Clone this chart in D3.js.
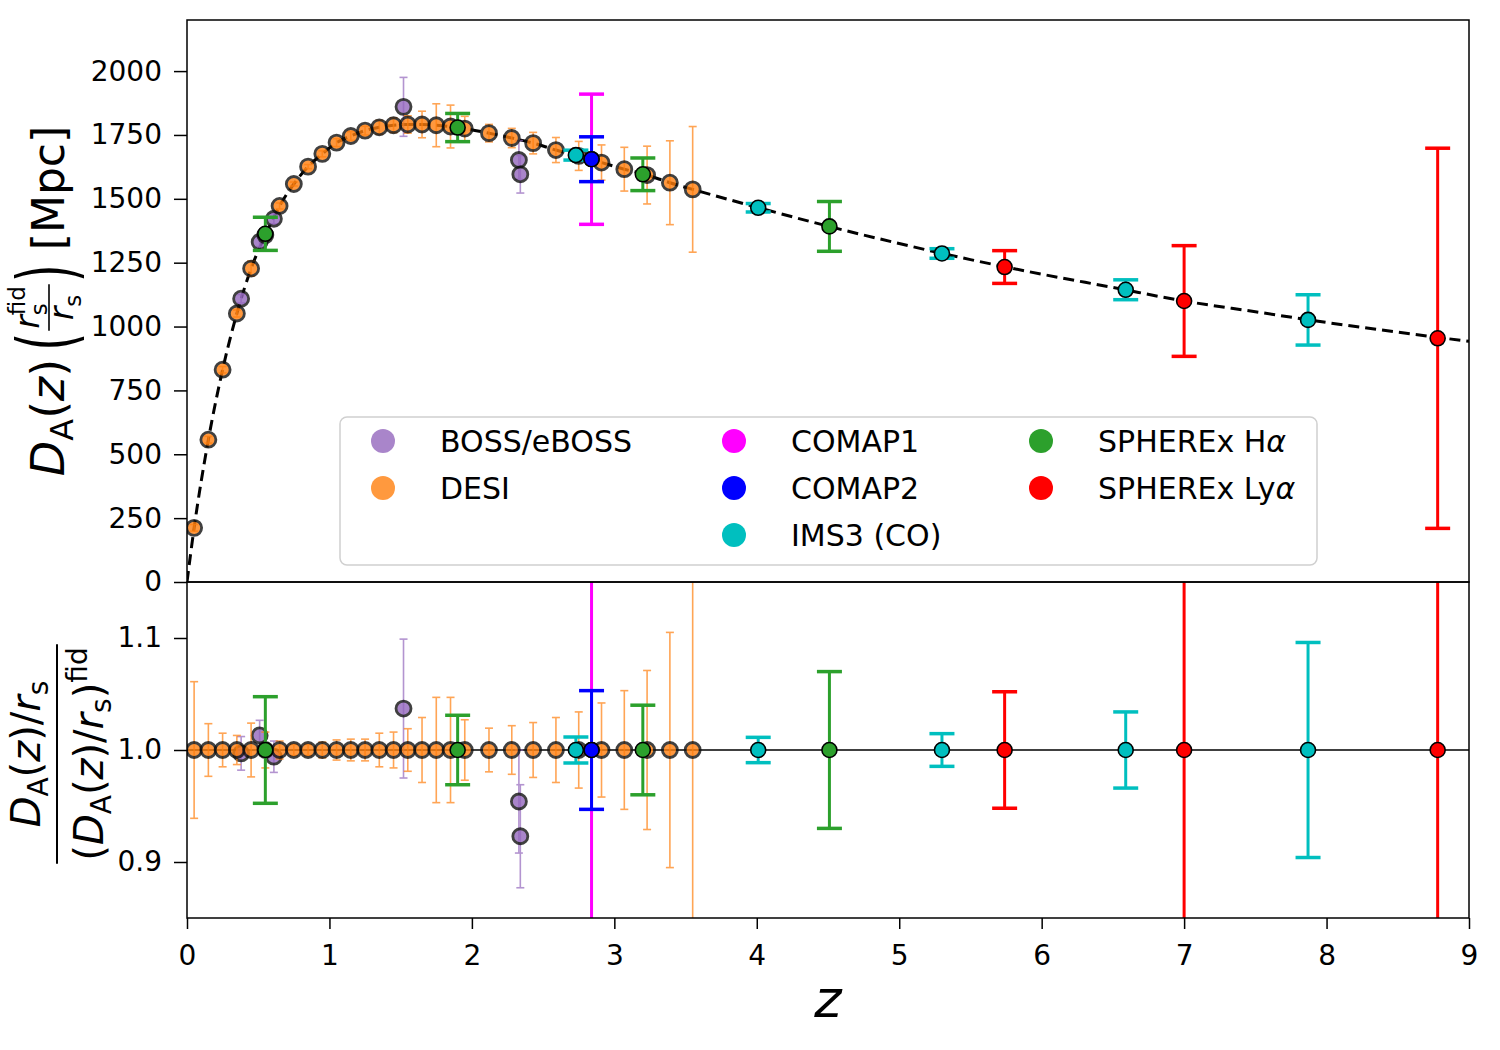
<!DOCTYPE html>
<html>
<head>
<meta charset="utf-8">
<script src="https://cdn.jsdelivr.net/npm/d3@7"></script>
<style>
    body { margin: 0; background: #fff; }
    text { font-family: 'DejaVu Sans', sans-serif; fill: #000; }
</style>
</head>
<body>
<div id="graph"></div>
<script>
// fiducial D_A(z) curve
const fidZ = [0, 0.05, 0.15, 0.25, 0.35, 0.45, 0.55, 0.65, 0.75, 0.85, 0.95, 1.05, 1.15, 1.25, 1.35,
    1.45, 1.55, 1.65, 1.75, 1.85, 1.95, 2.12, 2.28, 2.43, 2.59, 2.75, 2.91, 3.07, 3.23, 3.39, 3.55,
    4.0, 4.5, 5.0, 5.5, 6.0, 6.5, 7.0, 7.5, 8.0, 8.5, 9.0];
const fidDA = [0, 212, 557, 831, 1051, 1227, 1358, 1472, 1558, 1626, 1676, 1720, 1746, 1767, 1780,
    1788, 1791, 1791, 1788, 1783, 1775, 1757, 1738, 1718, 1691, 1668, 1642, 1616, 1593, 1563, 1537,
    1467, 1393, 1325, 1262, 1205, 1153, 1100, 1058, 1016, 978, 942];
const fidRatio = 1.0;

// DESI
const desiZ = [0.05, 0.15, 0.25, 0.35, 0.45, 0.55, 0.65, 0.75, 0.85, 0.95, 1.05, 1.15, 1.25, 1.35, 1.45,
    1.55, 1.65, 1.75, 1.85, 1.95, 2.12, 2.28, 2.43, 2.59, 2.75, 2.91, 3.07, 3.23, 3.39, 3.55];
const desiDA = [212, 557, 831, 1051, 1227, 1358, 1472, 1558, 1626, 1676, 1720, 1746, 1767, 1780, 1788,
    1791, 1791, 1788, 1783, 1775, 1757, 1738, 1718, 1691, 1668, 1642, 1616, 1593, 1563, 1537];
const desiErr = [0.061, 0.0235, 0.015, 0.013, 0.024, 0.016, 0.008, 0.005, 0.005, 0.007, 0.009, 0.0097,
    0.0097, 0.015, 0.016, 0.019, 0.029, 0.047, 0.047, 0.027, 0.0195, 0.0217, 0.0245, 0.029, 0.034,
    0.042, 0.053, 0.071, 0.105, 0.16];

// BOSS / eBOSS
const bossZ = [0.38, 0.51, 0.61, 1.52, 2.33, 2.34];
const bossDA = [1109, 1331, 1422, 1860, 1652, 1596];
const bossRatio = [0.997, 1.013, 0.994, 1.037, 0.954, 0.923];
const bossErr = [0.015, 0.0135, 0.014, 0.062, 0.046, 0.046];

// forecasts
const comap1Z = [2.84];
const comap1DA = [1655];
const comap1Err = [0.154];

const comap2Z = [2.84];
const comap2DA = [1655];
const comap2Err = [0.053];

const imsZ = [2.73, 4.01, 5.30, 6.59, 7.87];
const imsDA = [1671, 1465, 1286, 1144, 1026];
const imsErr = [0.0116, 0.0113, 0.0146, 0.034, 0.096];

const haZ = [0.55, 1.90, 3.20, 4.51];
const haDA = [1363, 1779, 1596, 1392];
const haErr = [0.0476, 0.031, 0.04, 0.07];

const lyaZ = [5.74, 7.00, 8.78];
const lyaDA = [1233, 1100, 954];
const lyaErr = [0.052, 0.197, 0.78];

const topTicks = [0, 250, 500, 750, 1000, 1250, 1500, 1750, 2000];
const bottomTicks = [0.9, 1.0, 1.1];
const zTicks = [0, 1, 2, 3, 4, 5, 6, 7, 8, 9];

const series = [
    {name: 'BOSS/eBOSS', color: '#9467bd', z: bossZ, da: bossDA, ratio: bossRatio, err: bossErr, kind: 'survey'},
    {name: 'DESI', color: '#ff7f0e', z: desiZ, da: desiDA, ratio: desiZ.map(() => fidRatio), err: desiErr, kind: 'survey'},
    {name: 'IMS3 (CO)', color: '#00bfbf', z: imsZ, da: imsDA, ratio: imsZ.map(() => fidRatio), err: imsErr, kind: 'forecast'},
    {name: 'COMAP1', color: '#ff00ff', z: comap1Z, da: comap1DA, ratio: comap1Z.map(() => fidRatio), err: comap1Err, kind: 'forecast'},
    {name: 'COMAP2', color: '#0000ff', z: comap2Z, da: comap2DA, ratio: comap2Z.map(() => fidRatio), err: comap2Err, kind: 'forecast'},
    {name: 'SPHEREx Hα', color: '#2ca02c', z: haZ, da: haDA, ratio: haZ.map(() => fidRatio), err: haErr, kind: 'forecast'},
    {name: 'SPHEREx Lyα', color: '#ff0000', z: lyaZ, da: lyaDA, ratio: lyaZ.map(() => fidRatio), err: lyaErr, kind: 'forecast'},
];
const legendOrder = [['BOSS/eBOSS', 'DESI'], ['COMAP1', 'COMAP2', 'IMS3 (CO)'], ['SPHEREx Hα', 'SPHEREx Lyα']];

const width = 1500;
const height = 1050;
const left = 187, right = 1469;
const topY0 = 20, splitY = 582, bottomY1 = 918;

const svg = d3.select('#graph').append('svg')
    .attr('width', width)
    .attr('height', height)
    .attr('viewBox', [0, 0, width, height]);

const x = d3.scaleLinear().domain([0, 9]).range([left, right]);
const yTop = d3.scaleLinear().domain([0, 2200]).range([splitY, topY0]);
const yBot = d3.scaleLinear().domain([0.85, 1.15]).range([bottomY1, splitY]);

const defs = svg.append('defs');
defs.append('clipPath').attr('id', 'clip-top').append('rect')
    .attr('x', left).attr('y', topY0).attr('width', right - left).attr('height', splitY - topY0);
defs.append('clipPath').attr('id', 'clip-bot').append('rect')
    .attr('x', left).attr('y', splitY).attr('width', right - left).attr('height', bottomY1 - splitY);

const style = {
    survey: {barW: 1.6, cap: 4, capW: 1.6, barOpacity: 0.7, r: 7.5, edge: '#111', edgeW: 2.8, opacity: 0.8},
    forecast: {barW: 3, cap: 12.5, capW: 3.5, barOpacity: 1, r: 7.5, edge: '#000', edgeW: 1.6, opacity: 1},
};

function drawSeries(g, s, y, val, errOf) {
    const st = style[s.kind];
    const pts = s.z.map((z, i) => ({z, v: val(s, i), e: errOf(s, i)}));
    const bars = g.append('g')
        .attr('stroke', s.color)
        .attr('opacity', st.barOpacity);
    bars.selectAll('line.bar').data(pts).join('line')
        .attr('class', 'bar')
        .attr('x1', d => x(d.z)).attr('x2', d => x(d.z))
        .attr('y1', d => y(d.v - d.e)).attr('y2', d => y(d.v + d.e))
        .attr('stroke-width', st.barW);
    [-1, 1].forEach(sign => {
        bars.selectAll(null).data(pts).join('line')
            .attr('x1', d => x(d.z) - st.cap).attr('x2', d => x(d.z) + st.cap)
            .attr('y1', d => y(d.v + sign * d.e)).attr('y2', d => y(d.v + sign * d.e))
            .attr('stroke-width', st.capW);
    });
    g.append('g').selectAll('circle').data(pts).join('circle')
        .attr('cx', d => x(d.z))
        .attr('cy', d => y(d.v))
        .attr('r', st.r)
        .attr('fill', s.color)
        .attr('stroke', st.edge)
        .attr('stroke-width', st.edgeW)
        .attr('opacity', st.opacity);
}

// ---- top panel
const topG = svg.append('g').attr('clip-path', 'url(#clip-top)');
topG.append('path')
    .datum(fidZ.map((z, i) => [z, fidDA[i]]))
    .attr('fill', 'none')
    .attr('stroke', '#000')
    .attr('stroke-width', 3)
    .attr('stroke-dasharray', '11,6')
    .attr('d', d3.line().x(d => x(d[0])).y(d => yTop(d[1])).curve(d3.curveMonotoneX));
series.forEach(s => drawSeries(topG, s, yTop, (s, i) => s.da[i], (s, i) => s.da[i] * s.err[i]));

// ---- bottom panel
const botG = svg.append('g').attr('clip-path', 'url(#clip-bot)');
botG.append('line')
    .attr('x1', left).attr('x2', right)
    .attr('y1', yBot(fidRatio)).attr('y2', yBot(fidRatio))
    .attr('stroke', '#000').attr('stroke-width', 1.3);
series.forEach(s => drawSeries(botG, s, yBot, (s, i) => s.ratio[i], (s, i) => s.err[i]));

// ---- legend
const legend = svg.append('g');
legend.append('rect')
    .attr('x', 340).attr('y', 417).attr('width', 977).attr('height', 148).attr('rx', 7)
    .attr('fill', '#fff').attr('fill-opacity', 0.8)
    .attr('stroke', '#d0d0d0').attr('stroke-width', 1.5);
const colX = [383, 734, 1041];
legendOrder.forEach((col, ci) => {
    col.forEach((name, ri) => {
        const s = series.find(d => d.name === name);
        const cy = 441 + ri * 47;
        legend.append('circle')
            .attr('cx', colX[ci]).attr('cy', cy).attr('r', 12)
            .attr('fill', s.color).attr('opacity', style[s.kind].opacity);
        const t = legend.append('text')
            .attr('x', colX[ci] + 57).attr('y', cy + 11)
            .attr('font-size', 30);
        if (name.endsWith('α')) {
            t.append('tspan').text(name.slice(0, -1));
            t.append('tspan').attr('font-style', 'italic').text('α');
        } else {
            t.text(name);
        }
    });
});

// ---- axes
function styleAxis(g) {
    g.select('.domain').remove();
    g.selectAll('.tick line').attr('stroke', '#000').attr('stroke-width', 1.5);
    g.selectAll('.tick text').attr('font-size', 28).attr('font-family', "'DejaVu Sans', sans-serif").attr('fill', '#000');
}

svg.append('g')
    .attr('transform', `translate(${left},0)`)
    .call(d3.axisLeft(yTop).tickValues(topTicks).tickFormat(d3.format('d')).tickSize(13).tickPadding(12))
    .call(styleAxis);
svg.append('g')
    .attr('transform', `translate(${left},0)`)
    .call(d3.axisLeft(yBot).tickValues(bottomTicks).tickFormat(d3.format('.1f')).tickSize(13).tickPadding(12))
    .call(styleAxis);
svg.append('g')
    .attr('transform', `translate(0,${bottomY1})`)
    .call(d3.axisBottom(x).tickValues(zTicks).tickFormat(d3.format('d')).tickSize(11).tickPadding(16))
    .call(styleAxis);

// frames
[[topY0, splitY], [splitY, bottomY1]].forEach(([a, b]) => {
    svg.append('rect')
        .attr('x', left).attr('y', a).attr('width', right - left).attr('height', b - a)
        .attr('fill', 'none').attr('stroke', '#000').attr('stroke-width', 1.5);
});

// ---- labels
svg.append('text')
    .attr('x', (left + right) / 2).attr('y', 1017)
    .attr('text-anchor', 'middle')
    .attr('font-size', 52).attr('font-style', 'italic')
    .text('z');

// pieces: [text, size, italic, dy, noAdvance]
function mathGroup(parent, pieces) {
    const g = parent.append('g');
    let px = 0;
    pieces.forEach(([str, size, it, dy, keep]) => {
        const t = g.append('text')
            .attr('x', px).attr('y', dy)
            .attr('font-size', size)
            .attr('font-style', it ? 'italic' : 'normal')
            .text(str);
        if (!keep) px += t.node().getComputedTextLength();
    });
    return {g, w: px};
}

// top y label: D_A(z) (r_s^fid / r_s) [Mpc]
const topLab = svg.append('g').attr('transform', 'translate(64,301) rotate(-90)');
const inner = topLab.append('g');
const F = 46;
let cur = mathGroup(inner, [['D', F, true, 0], ['A', 32, false, 9], ['(', F, false, 0], ['z', F, true, 0], [')', F, false, 0]]).w + 8;
function bigParen(ch) {
    const t = inner.append('text')
        .attr('transform', `translate(${cur},10) scale(1,1.7)`)
        .attr('font-size', F)
        .text(ch);
    cur += t.node().getComputedTextLength();
}
bigParen('(');
cur += 2;
const num = mathGroup(inner, [['r', 33, true, 0], ['s', 23, false, 8, true], ['fid', 23, false, -14]]);
const den = mathGroup(inner, [['r', 33, true, 0], ['s', 23, false, 8]]);
const fw = Math.max(num.w, den.w) + 4;
num.g.attr('transform', `translate(${cur + (fw - num.w) / 2},-25)`);
den.g.attr('transform', `translate(${cur + (fw - den.w) / 2},9)`);
inner.append('line')
    .attr('x1', cur).attr('x2', cur + fw).attr('y1', -15).attr('y2', -15)
    .attr('stroke', '#000').attr('stroke-width', 1.6);
cur += fw + 2;
bigParen(')');
cur += 14;
const mpc = inner.append('text').attr('x', cur).attr('y', 0).attr('font-size', 44).text('[Mpc]');
cur += mpc.node().getComputedTextLength();
inner.attr('transform', `translate(${-cur / 2},0)`);

// bottom y label: (D_A(z)/r_s) / (D_A(z)/r_s)^fid
const botLab = svg.append('g').attr('transform', 'translate(57,754) rotate(-90)');
const B = 40, b = 28;
const bn = mathGroup(botLab, [['D', B, true, 0], ['A', b, false, 8], ['(', B, false, 0], ['z', B, true, 0],
    [')', B, false, 0], ['/', B, false, 0], ['r', B, true, 0], ['s', b, false, 8]]);
const bd = mathGroup(botLab, [['(', B, false, 0], ['D', B, true, 0], ['A', b, false, 8], ['(', B, false, 0],
    ['z', B, true, 0], [')', B, false, 0], ['/', B, false, 0], ['r', B, true, 0], ['s', b, false, 8],
    [')', B, false, 0], ['fid', b, false, -16]]);
bn.g.attr('transform', `translate(${-bn.w / 2},-17)`);
bd.g.attr('transform', `translate(${-bd.w / 2},46)`);
const bw = Math.max(bn.w, bd.w) + 6;
botLab.append('line')
    .attr('x1', -bw / 2).attr('x2', bw / 2).attr('y1', 0).attr('y2', 0)
    .attr('stroke', '#000').attr('stroke-width', 2);
</script>
</body>
</html>
